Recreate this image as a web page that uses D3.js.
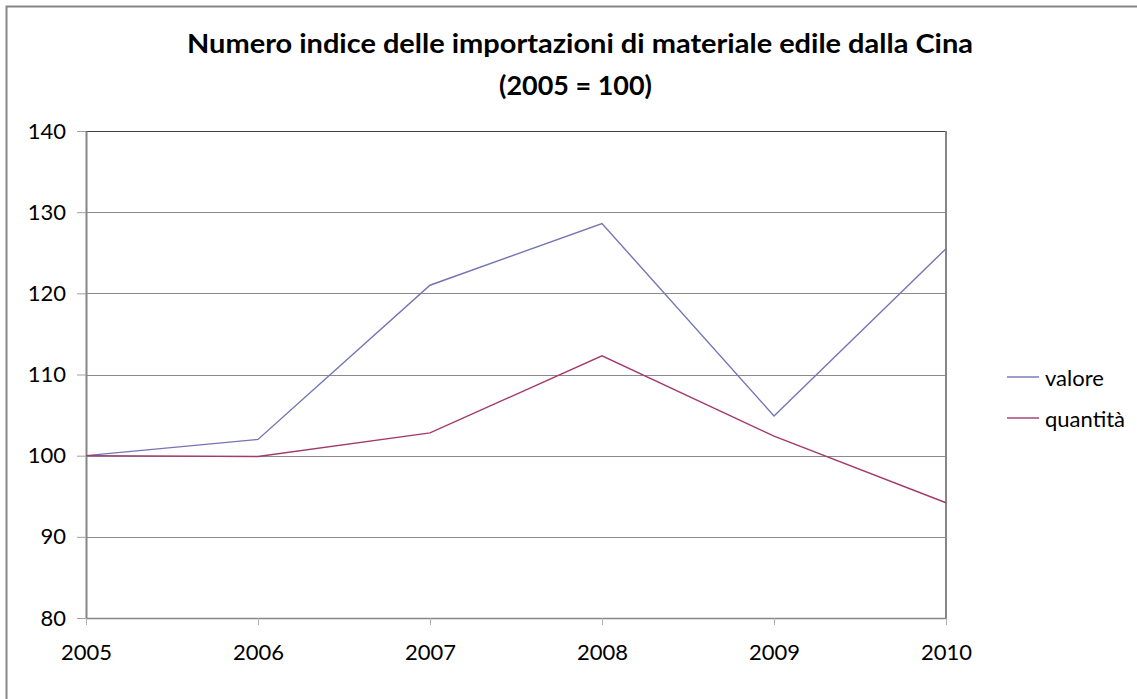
<!DOCTYPE html>
<html>
<head>
<meta charset="utf-8">
<script src="https://cdn.jsdelivr.net/npm/d3@7"></script>
<style>
  body { margin: 0; background: #fff; }
  text { font-family: Lato, "Open Sans", sans-serif; fill: #000; }
</style>
</head>
<body>
<div id="chart"></div>
<script>
// index numbers, 2005 = 100
const years = [2005, 2006, 2007, 2008, 2009, 2010];
const valore = [100, 102.0, 121.0, 128.6, 104.9, 125.5];
const quantita = [100, 99.9, 102.8, 112.3, 102.4, 94.2];
const yTicks = [80, 90, 100, 110, 120, 130, 140];
const seriesNames = ["valore", "quantità"];

(function line_chart() {
    const width = 1137,
        height = 699,
        margin = ({ top: 131, right: 191, bottom: 81, left: 86 });

    const svg = d3.select("#chart")
        .append("svg")
        .attr("width", width)
        .attr("height", height);

    // outer chart frame (right/bottom edges fall outside the picture)
    svg.append("rect")
        .attr("x", 6.5).attr("y", 6.5)
        .attr("width", width + 10).attr("height", height + 10)
        .attr("fill", "none")
        .attr("stroke", "#868686")
        .attr("stroke-width", 2);

    let x = d3.scaleLinear()
        .domain(d3.extent(years))
        .range([margin.left, width - margin.right]);

    let y = d3.scaleLinear()
        .domain([80, 140])
        .range([height - margin.bottom, margin.top]);

    // gridlines
    svg.append("g")
        .selectAll("line")
        .data(yTicks)
        .join("line")
        .attr("x1", margin.left)
        .attr("x2", width - margin.right)
        .attr("y1", d => Math.round(y(d)) + 0.5)
        .attr("y2", d => Math.round(y(d)) + 0.5)
        .attr("stroke", d => d === 140 ? "#404040" : "#8a8a8a")
        .attr("stroke-width", 1.2);

    // right edge of plot area
    svg.append("line")
        .attr("x1", width - margin.right).attr("x2", width - margin.right)
        .attr("y1", y(140)).attr("y2", y(80))
        .attr("stroke", "#868686")
        .attr("stroke-width", 2);

    // y axis
    let yAxis = svg.append("g")
        .attr("transform", `translate(${margin.left},0)`)
        .call(d3.axisLeft(y)
            .tickValues(yTicks)
            .tickSize(9)
            .tickPadding(11)
            .tickSizeOuter(0));
    yAxis.select(".domain").attr("stroke", "#868686").attr("stroke-width", 2);
    yAxis.selectAll(".tick line").attr("stroke", "#a0a0a0");
    yAxis.selectAll(".tick text")
        .attr("font-size", 22)
        .attr("font-family", "Lato, sans-serif");

    // x axis
    let xAxis = svg.append("g")
        .attr("transform", `translate(0,${height - margin.bottom})`)
        .call(d3.axisBottom(x)
            .tickValues(years)
            .tickFormat(d3.format("d"))
            .tickSize(7)
            .tickPadding(19)
            .tickSizeOuter(0));
    xAxis.select(".domain").attr("stroke", "#868686").attr("stroke-width", 1.5);
    xAxis.selectAll(".tick line").attr("stroke", "#b0b0b0");
    xAxis.selectAll(".tick text")
        .attr("font-size", 22)
        .attr("font-family", "Lato, sans-serif");

    let line = d3.line()
        .x((d, i) => x(years[i]))
        .y(d => y(d));

    const colors = ["#7474b4", "#a33a6c"];

    svg.append("path")
        .datum(valore)
        .attr("d", line)
        .attr("fill", "none")
        .attr("stroke", colors[0])
        .attr("stroke-width", 1.4);

    svg.append("path")
        .datum(quantita)
        .attr("d", line)
        .attr("fill", "none")
        .attr("stroke", colors[1])
        .attr("stroke-width", 1.4);

    // legend
    let legend = svg.append("g")
        .selectAll("g")
        .data(seriesNames)
        .join("g")
        .attr("transform", (d, i) => `translate(1007,${377 + i * 41})`);

    legend.append("line")
        .attr("x1", 0).attr("x2", 32)
        .attr("stroke", (d, i) => colors[i])
        .attr("stroke-width", 1.4);

    legend.append("text")
        .attr("x", 38)
        .attr("y", 9)
        .attr("font-size", 22)
        .text(d => d);

    // title
    svg.append("text")
        .attr("x", 187)
        .attr("y", 53)
        .attr("font-size", 27)
        .attr("font-weight", "bold")
        .attr("textLength", 786)
        .attr("lengthAdjust", "spacingAndGlyphs")
        .text("Numero indice delle importazioni di materiale edile dalla Cina");

    svg.append("text")
        .attr("x", 499)
        .attr("y", 95)
        .attr("font-size", 27)
        .attr("font-weight", "bold")
        .attr("textLength", 153)
        .attr("lengthAdjust", "spacingAndGlyphs")
        .text("(2005 = 100)");
})();
</script>
</body>
</html>
